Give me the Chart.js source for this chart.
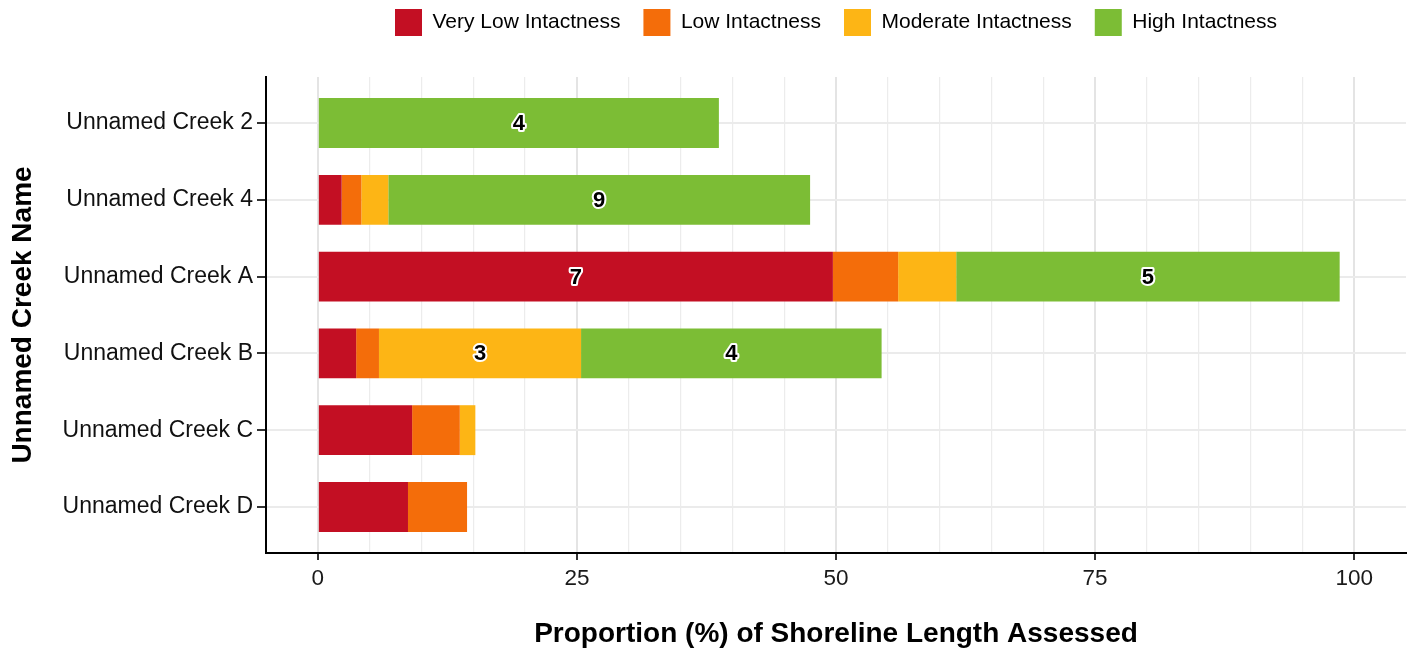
<!DOCTYPE html>
<html>
<head>
<meta charset="utf-8">
<script src="https://cdn.jsdelivr.net/npm/chart.js@4.4.1/dist/chart.umd.min.js"></script>
<style>
  html, body { margin: 0; padding: 0; background: #fff; }
  #wrap { width: 1415px; height: 650px; }
</style>
</head>
<body>
<div id="wrap"><canvas id="c" width="1415" height="650"></canvas></div>
<script>
// ---- data ----
const categories = ['Unnamed Creek 2', 'Unnamed Creek 4', 'Unnamed Creek A', 'Unnamed Creek B', 'Unnamed Creek C', 'Unnamed Creek D'];
const seriesNames = ['Very Low Intactness', 'Low Intactness', 'Moderate Intactness', 'High Intactness'];
const veryLow  = [null, 2.3, 49.7, 3.7, 9.1, 8.7];
const low      = [null, 1.9, 6.3, 2.2, 4.6, 5.7];
const moderate = [null, 2.6, 5.6, 19.5, 1.5, null];
const high     = [38.7, 40.7, 37.0, 29.0, null, null];
const veryLowCounts  = [null, null, 7, null, null, null];
const lowCounts      = [null, null, null, null, null, null];
const moderateCounts = [null, null, null, 3, null, null];
const highCounts     = [4, 9, 5, 4, null, null];
const xTickLabels = [0, 25, 50, 75, 100];
const xGridStep = 5;

const seriesValues = [veryLow, low, moderate, high];
const seriesCounts = [veryLowCounts, lowCounts, moderateCounts, highCounts];
const seriesColors = ['#C30F23', '#F46D0A', '#FDB515', '#7CBD35'];

Chart.defaults.font.family = "'Liberation Sans', Arial, Helvetica, sans-serif";
Chart.defaults.color = '#1a1a1a';

const datasets = seriesNames.map((name, s) => ({
  label: name,
  data: seriesValues[s].map((v, i) => ({ x: v, y: i })),
  counts: seriesCounts[s],
  backgroundColor: seriesColors[s],
  borderWidth: 0,
  barPercentage: 0.65,
  categoryPercentage: 1.0
}));

const countLabels = {
  id: 'countLabels',
  afterDatasetsDraw(chart) {
    const ctx = chart.ctx;
    ctx.save();
    ctx.font = "bold 22px 'Liberation Sans', Arial, sans-serif";
    ctx.textAlign = 'center';
    ctx.textBaseline = 'middle';
    ctx.lineJoin = 'round';
    chart.data.datasets.forEach((ds, d) => {
      const meta = chart.getDatasetMeta(d);
      meta.data.forEach((el, i) => {
        const c = ds.counts[i];
        if (c === null || c === undefined) return;
        const props = el.getProps(['x', 'y', 'base'], true);
        const cx = (props.x + props.base) / 2;
        const cy = props.y + 1;
        ctx.lineWidth = 4;
        ctx.strokeStyle = '#ffffff';
        ctx.strokeText(String(c), cx, cy);
        ctx.fillStyle = '#000000';
        ctx.fillText(String(c), cx, cy);
      });
    });
    ctx.restore();
  }
};

new Chart(document.getElementById('c'), {
  type: 'bar',
  data: { datasets },
  plugins: [countLabels],
  options: {
    indexAxis: 'y',
    responsive: false,
    animation: false,
    devicePixelRatio: 1,
    layout: { padding: { top: -14, right: 9, left: 0, bottom: 0 } },
    plugins: {
      tooltip: { enabled: false },
      legend: {
        position: 'top',
        align: 'center',
        fullSize: false,
        labels: {
          boxWidth: 27,
          boxHeight: 27,
          padding: 23,
          color: '#000',
          font: { size: 21 }
        }
      }
    },
    scales: {
      x: {
        type: 'linear',
        position: 'bottom',
        stacked: true,
        offset: false,
        min: -5,
        max: 105,
        afterBuildTicks(s) {
          const t = [];
          for (let v = 0; v <= 100; v += xGridStep) t.push({ value: v });
          s.ticks = t;
        },
        afterFit(s) { s.height = 97; },
        ticks: {
          autoSkip: false,
          maxRotation: 0,
          padding: 5,
          color: '#1a1a1a',
          font: { size: 22.5 },
          callback: (v) => xTickLabels.includes(v) ? String(v) : ''
        },
        grid: {
          offset: false,
          drawTicks: true,
          tickLength: 7,
          color: (c) => (c.tick && xTickLabels.includes(c.tick.value)) ? '#e4e4e4' : '#ececec',
          lineWidth: (c) => (c.tick && xTickLabels.includes(c.tick.value)) ? 2 : 1.2,
          tickColor: (c) => (c.tick && xTickLabels.includes(c.tick.value)) ? '#333333' : 'rgba(0,0,0,0)',
          tickWidth: 2
        },
        border: { display: true, color: '#000', width: 2 },
        title: {
          display: true,
          text: 'Proportion (%) of Shoreline Length Assessed',
          color: '#000',
          font: { size: 28, weight: 'bold', lineHeight: 1.1 },
          padding: { top: 0, bottom: 0 }
        }
      },
      xTop: {
        type: 'linear',
        position: 'top',
        display: true,
        ticks: { display: false },
        grid: { display: false, drawTicks: false },
        border: { display: false },
        afterFit(s) { s.height = 31; }
      },
      y: {
        type: 'linear',
        stacked: true,
        reverse: true,
        offset: false,
        min: -0.6,
        max: 5.6,
        afterBuildTicks(s) {
          s.ticks = categories.map((_, i) => ({ value: i }));
        },
        afterFit(s) { s.width = 266; },
        ticks: {
          autoSkip: false,
          padding: 4,
          color: '#111',
          font: { size: 23 },
          callback: (v) => categories[v]
        },
        grid: {
          offset: false,
          drawTicks: true,
          tickLength: 9,
          color: '#ebebeb',
          lineWidth: 2,
          tickColor: '#333333',
          tickWidth: 2
        },
        border: { display: true, color: '#000', width: 2 },
        title: {
          display: true,
          text: 'Unnamed Creek Name',
          color: '#000',
          font: { size: 28, weight: 'bold', lineHeight: 1.2 },
          padding: { top: 6, bottom: 0 }
        }
      }
    }
  }
});
</script>
</body>
</html>
